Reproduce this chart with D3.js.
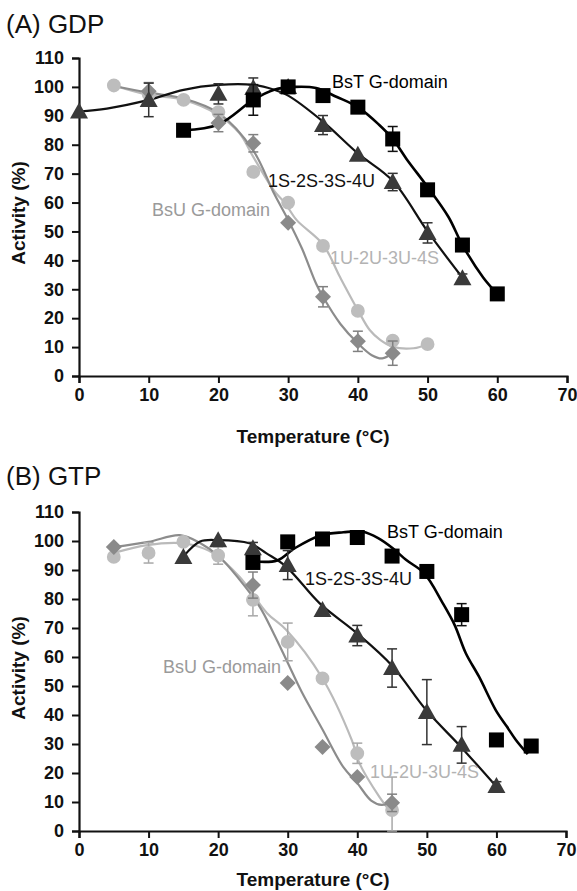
<!DOCTYPE html>
<html>
<head>
<meta charset="utf-8">
<script src="https://cdn.jsdelivr.net/npm/d3@7"></script>
<style>
  html, body { margin: 0; padding: 0; background: #fff; }
  svg { display: block; }
  text { font-family: "Liberation Sans", Arial, sans-serif; }
</style>
</head>
<body>
<svg id="chart" width="577" height="891"></svg>
<script>
// ---------- Panel A (GDP) : measured points ----------
const gdpBsT_T = [15, 25, 30, 35, 40, 45, 50, 55, 60];
const gdpBsT_V = [85, 95.5, 100, 97, 93, 82, 64.4, 45.3, 28.4];
const gdpBsT_E = [0, 5.3, 0, 0, 0, 4.3, 0, 0, 0];

const gdp1S_T = [0, 10, 20, 25, 30, 35, 40, 45, 50, 55];
const gdp1S_V = [91.5, 95.5, 97.6, 99.6, 100, 86.8, 76.5, 67.1, 49.5, 33.8];
const gdp1S_E = [0, 5.8, 3.5, 3.5, 0, 3.3, 0, 3, 3.5, 1.5];

const gdpBsU_T = [10, 20, 25, 30, 35, 40, 45];
const gdpBsU_V = [98.5, 87.5, 80.5, 53, 27.4, 12, 7.9];
const gdpBsU_E = [3, 3, 3, 0, 3.5, 3.5, 4.2];

const gdp1U_T = [5, 10, 15, 20, 25, 30, 35, 40, 45, 50];
const gdp1U_V = [100.5, 97.5, 95.5, 91.3, 70.6, 60, 45, 22.5, 12.2, 11];
const gdp1U_E = [0, 0, 0, 0, 0, 0, 0, 0, 0, 0];

// ---------- Panel A fitted curves ----------
const gdpBsTFit_T = [15, 20, 25, 28, 31, 34, 37, 40, 43, 45, 47, 50, 53, 55, 58, 60];
const gdpBsTFit_V = [85, 87, 95.5, 99, 100, 99.6, 96.5, 93, 87, 82, 75, 65.4, 55, 45.3, 34, 28.4];
const gdp1SFit_T = [0, 4, 10, 15, 20, 25, 28, 30, 35, 40, 45, 50, 55];
const gdp1SFit_V = [91.5, 92.5, 95.5, 99, 100.7, 100.7, 99, 97, 88, 77, 67.5, 50, 34];
const gdpBsUFit_T = [5, 10, 15, 20, 25, 28, 30, 32, 34, 35, 37.5, 40, 42, 43.5, 45];
const gdpBsUFit_V = [100.3, 98, 96, 91, 78, 63, 54, 44, 32, 27.4, 18, 11.3, 7.2, 6.1, 7.9];
const gdp1UFit_T = [5, 10, 15, 20, 23, 25, 28, 29.5, 31.2, 35, 37.4, 40, 41.7, 43.2, 45, 48, 50];
const gdp1UFit_V = [100.5, 97.2, 95.5, 90.3, 84, 75.8, 64, 60, 54, 45.5, 34.4, 22.8, 15.9, 12.5, 10.1, 9.6, 11];

// ---------- Panel B (GTP) : measured points ----------
const gtpBsT_T = [25, 30, 35, 40, 45, 50, 55, 60, 65];
const gtpBsT_V = [92.6, 99.7, 100.7, 101.2, 94.8, 89.5, 74.6, 31.4, 29.3];
const gtpBsT_E = [0, 0, 0, 0, 0, 0, 3.8, 0, 0];

const gtp1S_T = [15, 20, 25, 30, 35, 40, 45, 50, 55, 60];
const gtp1S_V = [94.5, 100.3, 97.5, 91.7, 76.2, 67.4, 56.2, 41, 29.7, 15.5];
const gtp1S_E = [0, 0, 2, 5, 0, 3.5, 6.6, 11.2, 6.3, 1.5];

const gtpBsU_T = [5, 25, 30, 35, 40, 45];
const gtpBsU_V = [97.9, 84.8, 51, 29, 18.6, 9.7];
const gtpBsU_E = [0, 4.5, 0, 0, 0, 3];

const gtp1U_T = [5, 10, 15, 20, 25, 30, 35, 40, 45];
const gtp1U_V = [94.5, 95.9, 99.7, 95, 79.7, 65.2, 52.6, 26.8, 7.2];
const gtp1U_E = [0, 3.5, 0, 3, 5.5, 6.5, 0, 3.5, 11.4];

// ---------- Panel B fitted curves ----------
const gtpBsTFit_T = [25, 28.5, 31, 34.8, 38, 40.8, 43, 45.1, 47, 49.6, 52.3, 54, 55.6, 57.5, 59.9, 61.5, 62.8, 64.5];
const gtpBsTFit_V = [93, 93.3, 97.5, 102, 103, 103.2, 101, 97.5, 93.5, 88.9, 78.5, 71, 61.3, 53.2, 41.7, 36, 31.4, 26.5];
const gtp1SFit_T = [15, 17.4, 20, 24.5, 26.9, 29.8, 34.6, 39.8, 45, 49.9, 54.9, 60];
const gtp1SFit_V = [94.6, 99.8, 100.3, 99.2, 95.8, 91.1, 78.5, 68.5, 57, 41.7, 29, 15.3];
const gtpBsUFit_T = [5, 10, 14.5, 17.4, 20.2, 23.1, 26, 28, 30, 32, 35, 38, 40, 42, 43.5, 45];
const gtpBsUFit_V = [97.9, 99.7, 102, 99.3, 94.5, 86.6, 77.2, 68, 58, 48, 35, 22, 16.5, 10.5, 9, 10];
const gtp1UFit_T = [5, 9.8, 14.5, 16.4, 19.2, 23.1, 27, 29.8, 34.9, 39.2, 40.3, 43.2, 45];
const gtp1UFit_V = [95.9, 98.6, 99.3, 98.6, 95.9, 87.6, 75.2, 69.3, 53, 31.4, 23.4, 11.7, 6];

// ---------- Axis ticks & labels ----------
const xTicks = [0, 10, 20, 30, 40, 50, 60, 70];
const yTicks = [0, 10, 20, 30, 40, 50, 60, 70, 80, 90, 100, 110];
const panelTitles = ["(A) GDP", "(B) GTP"];
const xTitle = "Temperature (°C)";
const yTitle = "Activity (%)";
const seriesNames = ["BsT G-domain", "1S-2S-3S-4U", "BsU G-domain", "1U-2U-3U-4S"];

// ---------- Drawing ----------
const svg = d3.select("#chart");
const zip = (T, V, E) => T.map((t, i) => ({ t, v: V[i], e: E ? E[i] : 0 }));

const styles = {
  BsT: { color: "#000000", line: "#000000", lw: 2.6, label: "#000000", shape: "square", eb: "#111" },
  S1:  { color: "#3a3a3a", line: "#111111", lw: 2.2, label: "#111111", shape: "triangle", eb: "#333" },
  BsU: { color: "#8a8a8a", line: "#8c8c8c", lw: 2.2, label: "#9a9a9a", shape: "diamond", eb: "#808080" },
  U1:  { color: "#bdbdbd", line: "#bababa", lw: 2.2, label: "#b3b3b3", shape: "blob", eb: "#a8a8a8" }
};

function drawPanel(cfg) {
  const x = d3.scaleLinear().domain([0, 70]).range([cfg.x0, cfg.x1]);
  const y = d3.scaleLinear().domain([0, 110]).range([cfg.yBottom, cfg.yTop]);
  const g = svg.append("g");

  // axes
  const xAxis = d3.axisBottom(x).tickValues(xTicks).tickSize(7).tickPadding(5).tickFormat(d3.format("d"));
  const yAxis = d3.axisLeft(y).tickValues(yTicks).tickSize(7).tickPadding(8).tickFormat(d3.format("d"));
  const gx = g.append("g").attr("transform", `translate(0,${cfg.yBottom})`).call(xAxis);
  const gy = g.append("g").attr("transform", `translate(${cfg.x0},0)`).call(yAxis);
  [gx, gy].forEach(a => {
    a.select(".domain").attr("stroke", "#111").attr("stroke-width", 2.2);
    a.selectAll(".tick line").attr("stroke", "#111").attr("stroke-width", 2);
    a.selectAll(".tick text").attr("fill", "#111").style("font-size", "18px").style("font-weight", "bold")
      .style("font-family", "'Liberation Sans', Arial, sans-serif");
  });

  // titles
  g.append("text").attr("x", 6).attr("y", cfg.titleY).text(cfg.title)
    .style("font-size", "26px").attr("fill", "#111");
  g.append("text").attr("x", 313).attr("y", cfg.xTitleY).attr("text-anchor", "middle").text(xTitle)
    .style("font-size", "19px").style("font-weight", "bold").attr("fill", "#111");
  g.append("text").attr("transform", `translate(25,${cfg.yBottom - 163}) rotate(-90)`).attr("text-anchor", "middle")
    .text(yTitle).style("font-size", "19px").style("font-weight", "bold").attr("fill", "#111");

  const line = d3.line().x(d => x(d.t)).y(d => y(d.v)).curve(d3.curveCatmullRom.alpha(0.5));

  // fitted curves
  cfg.series.slice().reverse().forEach(s => {
    const st = styles[s.key];
    g.append("path").datum(zip(s.fitT, s.fitV)).attr("d", line)
      .attr("fill", "none").attr("stroke", st.line).attr("stroke-width", st.lw)
      .attr("stroke-linejoin", "round");
  });

  // error bars + markers
  cfg.series.slice().reverse().forEach(s => {
    const st = styles[s.key];
    const pts = zip(s.T, s.V, s.E);
    const eb = g.append("g").attr("stroke", st.eb).attr("stroke-width", 1.5);
    pts.filter(d => d.e > 0).forEach(d => {
      const cx = x(d.t), yt = y(d.v + d.e), yb = y(Math.max(0, d.v - d.e));
      eb.append("line").attr("x1", cx).attr("x2", cx).attr("y1", yt).attr("y2", yb);
      eb.append("line").attr("x1", cx - 5).attr("x2", cx + 5).attr("y1", yt).attr("y2", yt);
      eb.append("line").attr("x1", cx - 5).attr("x2", cx + 5).attr("y1", yb).attr("y2", yb);
    });
    const mk = g.append("g");
    pts.forEach(d => {
      const cx = x(d.t), cy = y(d.v);
      if (st.shape === "square") {
        mk.append("rect").attr("x", cx - 7.5).attr("y", cy - 7.5).attr("width", 15).attr("height", 15).attr("fill", st.color);
      } else if (st.shape === "triangle") {
        mk.append("path").attr("d", `M${cx},${cy - 9}L${cx + 9},${cy + 7}L${cx - 9},${cy + 7}Z`).attr("fill", st.color);
      } else if (st.shape === "diamond") {
        mk.append("path").attr("d", `M${cx},${cy - 8}L${cx + 8},${cy}L${cx},${cy + 8}L${cx - 8},${cy}Z`).attr("fill", st.color);
      } else {
        mk.append("path").attr("d", d3.symbol().type(d3.symbolCircle).size(150)()).attr("transform", `translate(${cx},${cy})`)
          .attr("fill", st.color);
      }
    });
  });

  // series labels
  cfg.labels.forEach(l => {
    g.append("text").attr("x", l.x).attr("y", l.y).text(seriesNames[l.i])
      .style("font-size", "18px").attr("fill", styles[l.key].label);
  });
}

drawPanel({
  x0: 79, x1: 567, yTop: 58, yBottom: 376, titleY: 33, xTitleY: 443, title: panelTitles[0],
  series: [
    { key: "BsT", T: gdpBsT_T, V: gdpBsT_V, E: gdpBsT_E, fitT: gdpBsTFit_T, fitV: gdpBsTFit_V },
    { key: "S1",  T: gdp1S_T,  V: gdp1S_V,  E: gdp1S_E,  fitT: gdp1SFit_T,  fitV: gdp1SFit_V },
    { key: "BsU", T: gdpBsU_T, V: gdpBsU_V, E: gdpBsU_E, fitT: gdpBsUFit_T, fitV: gdpBsUFit_V },
    { key: "U1",  T: gdp1U_T,  V: gdp1U_V,  E: gdp1U_E,  fitT: gdp1UFit_T,  fitV: gdp1UFit_V }
  ],
  labels: [
    { i: 0, key: "BsT", x: 332, y: 88 },
    { i: 1, key: "S1",  x: 268, y: 187 },
    { i: 2, key: "BsU", x: 152, y: 216 },
    { i: 3, key: "U1",  x: 330, y: 264 }
  ]
});

drawPanel({
  x0: 79, x1: 566, yTop: 512, yBottom: 831, titleY: 485, xTitleY: 886, title: panelTitles[1],
  series: [
    { key: "BsT", T: gtpBsT_T, V: gtpBsT_V, E: gtpBsT_E, fitT: gtpBsTFit_T, fitV: gtpBsTFit_V },
    { key: "S1",  T: gtp1S_T,  V: gtp1S_V,  E: gtp1S_E,  fitT: gtp1SFit_T,  fitV: gtp1SFit_V },
    { key: "BsU", T: gtpBsU_T, V: gtpBsU_V, E: gtpBsU_E, fitT: gtpBsUFit_T, fitV: gtpBsUFit_V },
    { key: "U1",  T: gtp1U_T,  V: gtp1U_V,  E: gtp1U_E,  fitT: gtp1UFit_T,  fitV: gtp1UFit_V }
  ],
  labels: [
    { i: 0, key: "BsT", x: 387, y: 538 },
    { i: 1, key: "S1",  x: 305, y: 585 },
    { i: 2, key: "BsU", x: 163, y: 673 },
    { i: 3, key: "U1",  x: 370, y: 778 }
  ]
});
</script>
</body>
</html>
